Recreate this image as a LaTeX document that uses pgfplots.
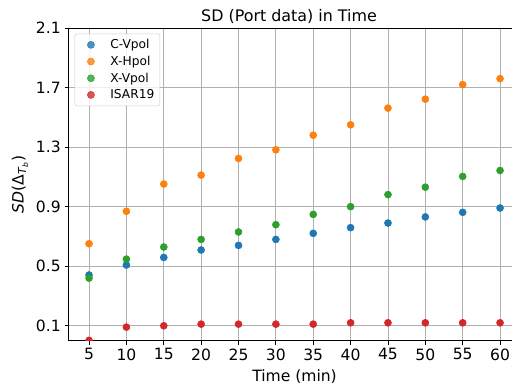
\documentclass[border=0pt]{standalone}
\usepackage{fontspec}
\setmainfont{DejaVu Sans}
\usepackage{pgfplots}
\pgfplotsset{compat=1.18}
\definecolor{c1}{HTML}{1F77B4}
\definecolor{c2}{HTML}{FF7F0E}
\definecolor{c3}{HTML}{2CA02C}
\definecolor{c4}{HTML}{D62728}
\definecolor{gridc}{HTML}{B0B0B0}
\begin{document}
\begin{tikzpicture}
\begin{axis}[name=ax, scale only axis, width=406.9pt, height=281.4pt,
  xmin=2.25, xmax=62.75, ymin=0, ymax=2.1,
  xtick={5,10,...,60},
  ytick={0.1,0.5,0.9,1.3,1.7,2.1}, yticklabels={0.1,0.5,0.9,1.3,1.7,2.1},
  grid=major, major grid style={color=gridc, line width=0.8pt},
  axis line style={line width=0.8pt, color=black},
  tick style={line width=0.8pt, color=black}, major tick length=3.5pt,
  tick align=outside, xtick pos=bottom, ytick pos=left,
  ticklabel style={font=\fontsize{14}{16}\selectfont},
  /pgf/number format/assume math mode=true,
  xlabel={Time (min)},
  xlabel style={font=\fontsize{14}{16}\selectfont, at={(axis description cs:0.5,0)}, anchor=base, yshift=-36.9pt},
  clip marker paths=true,
  legend cell align=left,
  legend style={at={(0,1)}, anchor=north west, xshift=5.5pt, yshift=-5pt,
    draw=black!20, rounded corners=2pt, fill=white, fill opacity=0.8, text opacity=1,
    font=\fontsize{11}{13}\selectfont, row sep=1.2pt, inner xsep=3pt, inner ysep=3pt},
  legend image code/.code={\path[draw=none,fill=none] (0pt,-2pt) rectangle (27pt,2pt); \path[#1,draw=none] plot coordinates {(11.5pt,0pt)};},
]
\addplot[only marks, mark=*, mark size=3.2pt, color=c1] coordinates {
(5,0.441) (10,0.508) (15,0.559) (20,0.609) (25,0.640) (30,0.680)
(35,0.721) (40,0.759) (45,0.790) (50,0.831) (55,0.862) (60,0.891)};
\addlegendentry{C-Vpol}
\addplot[only marks, mark=*, mark size=3.2pt, color=c2] coordinates {
(5,0.651) (10,0.869) (15,1.052) (20,1.112) (25,1.224) (30,1.282)
(35,1.380) (40,1.450) (45,1.562) (50,1.622) (55,1.720) (60,1.760)};
\addlegendentry{X-Hpol}
\addplot[only marks, mark=*, mark size=3.2pt, color=c3] coordinates {
(5,0.420) (10,0.548) (15,0.629) (20,0.680) (25,0.730) (30,0.779)
(35,0.848) (40,0.900) (45,0.981) (50,1.031) (55,1.103) (60,1.143)};
\addlegendentry{X-Vpol}
\addplot[only marks, mark=*, mark size=3.2pt, color=c4] coordinates {
(5,0.002) (10,0.091) (15,0.100) (20,0.111) (25,0.111) (30,0.111)
(35,0.111) (40,0.120) (45,0.120) (50,0.120) (55,0.120) (60,0.120)};
\addlegendentry{ISAR19}
\end{axis}
\node[rotate=90, anchor=center, font=\fontsize{14}{16}\selectfont] at ([xshift=-43.6pt]ax.west) {\textit{SD}(Δ\textsubscript{\textit{T}\textsubscript{\textit{b}}})};
\node[anchor=base, font=\fontsize{14.3}{16}\selectfont] at ([xshift=-5pt,yshift=6.3pt]ax.north) {SD (Port data) in Time};
\pgfresetboundingbox
\path[use as bounding box] ([xshift=-61.65pt,yshift=-42.6pt]ax.south west) rectangle ++(460.8pt,349.2pt);
\end{tikzpicture}
\end{document}
